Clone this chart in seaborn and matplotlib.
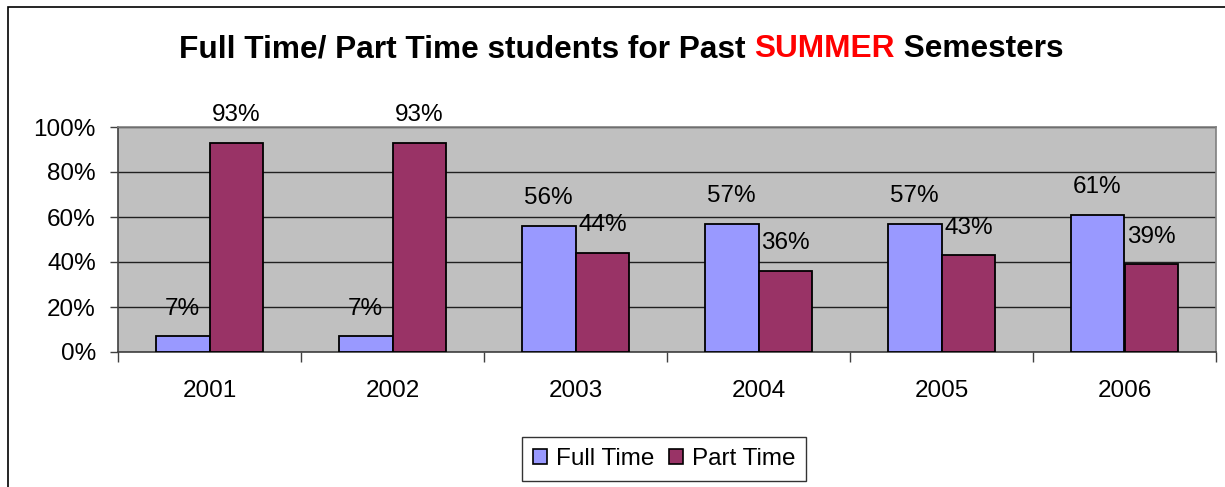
import numpy as np
import pandas as pd
import seaborn as sns
import matplotlib.pyplot as plt
from matplotlib.patches import Rectangle
from matplotlib.ticker import FixedLocator

# --- Data ---
years = ['2001', '2002', '2003', '2004', '2005', '2006']
full_time = [7, 7, 56, 57, 57, 61]
part_time = [93, 93, 44, 36, 43, 39]
series = ['Full Time', 'Part Time']
colors = ['#9999FF', '#993366']

df = pd.DataFrame({
    'Year': years * 2,
    'Share': full_time + part_time,
    'Status': [series[0]] * len(years) + [series[1]] * len(years),
})

sns.set_theme(style='white')
plt.rcParams['font.family'] = ['Liberation Sans', 'DejaVu Sans']
plt.rcParams['text.color'] = 'black'
plt.rcParams['xtick.labelcolor'] = 'black'
plt.rcParams['ytick.labelcolor'] = 'black'

W, H = 1225, 487
fig = plt.figure(figsize=(W / 100, H / 100), dpi=100)
fig.patch.set_facecolor('white')

# outer chart frame (left and top visible)
fig.patches.append(Rectangle((8 / W, -0.1), 1.2, 1 - 7 / H + 0.1,
                             transform=fig.transFigure, fill=False,
                             edgecolor='black', linewidth=1.2))

ax = fig.add_axes([118 / W, 1 - 352 / H, (1216 - 118) / W, (352 - 127) / H])
ax.set_facecolor('#C0C0C0')

sns.barplot(data=df, x='Year', y='Share', hue='Status', palette=colors,
            width=0.59, gap=0, edgecolor='black', linewidth=1.3,
            saturation=1, legend=False, ax=ax, zorder=3)

# --- Data labels ---
for cont, vals in zip(ax.containers, [full_time, part_time]):
    ax.bar_label(cont, labels=[f'{v}%' for v in vals], padding=12,
                 fontsize=17.5, color='black')

# --- Axes styling ---
ax.set_ylim(0, 100)
ax.set_xlim(-0.5, len(years) - 0.5)
ax.set_yticks([0, 20, 40, 60, 80, 100])
ax.set_yticklabels([f'{v}%' for v in [0, 20, 40, 60, 80, 100]], fontsize=17.5)
ax.yaxis.grid(True, color='#202020', linewidth=1.0, zorder=0)
ax.set_axisbelow(True)
ax.tick_params(axis='y', length=6, width=1, color='#404040', pad=10, left=True)
ax.tick_params(axis='x', which='major', length=0, pad=20, labelsize=17.5)
ax.xaxis.set_minor_locator(FixedLocator(np.arange(-0.5, len(years), 1.0)))
ax.tick_params(axis='x', which='minor', length=7, width=1, color='#404040',
               bottom=True)
ax.set_xlabel('')
ax.set_ylabel('')
for side in ['top', 'right']:
    ax.spines[side].set_color('#808080')
    ax.spines[side].set_linewidth(1.2)
for side in ['left', 'bottom']:
    ax.spines[side].set_color('#404040')
    ax.spines[side].set_linewidth(1.2)

# --- Title with red SUMMER ---
tsize = 22.8
t1 = fig.text(180 / W, 1 - 57 / H, 'Full Time/ Part Time students for Past ',
              fontsize=tsize, fontweight='bold', ha='left', va='baseline')
t2 = fig.text(0, 0, 'SUMMER', fontsize=tsize, fontweight='bold', color='red',
              ha='left', va='baseline')
t3 = fig.text(0, 0, ' Semesters', fontsize=tsize, fontweight='bold',
              ha='left', va='baseline')
fig.canvas.draw()
r = fig.canvas.get_renderer()
b1 = t1.get_window_extent(r)
t2.set_position((b1.x1 / W, 1 - 57 / H))
b2 = t2.get_window_extent(r)
t3.set_position((b2.x1 / W, 1 - 57 / H))
b3 = t3.get_window_extent(r)
# center the full title on the chart title position
total_mid = (b1.x0 + b3.x1) / 2
shift = (621 - total_mid) / W
for t in (t1, t2, t3):
    x, y = t.get_position()
    t.set_position((x + shift, y))

# --- Legend ---
handles = [Rectangle((0, 0), 1, 1, facecolor=c, edgecolor='black', linewidth=1.2)
           for c in colors]
leg = fig.legend(handles, series, loc='center', bbox_to_anchor=(664 / W, 1 - 459 / H),
                 ncol=2, fontsize=17.5, frameon=True, fancybox=False,
                 edgecolor='black', handlelength=0.6, handleheight=0.6,
                 handletextpad=0.35, columnspacing=0.6, borderpad=0.45)
leg.get_frame().set_linewidth(1.0)

fig.savefig('out.png', dpi=100)
